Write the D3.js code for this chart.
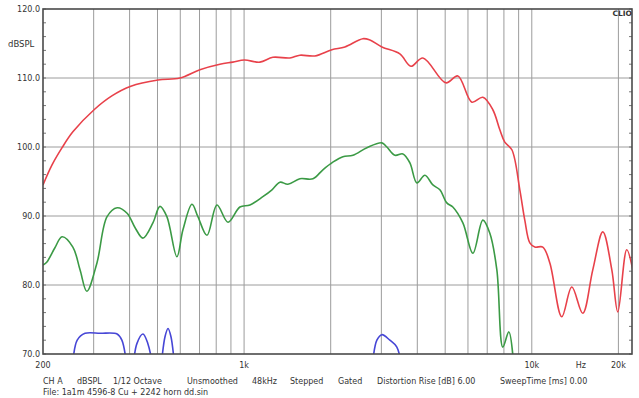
<!DOCTYPE html>
<html><head><meta charset="utf-8">
<script src="https://cdn.jsdelivr.net/npm/d3@7"></script>
<style>body{margin:0;background:#fff}svg{display:block}text{font-family:"DejaVu Sans",Verdana,sans-serif}</style>
</head><body>
<svg id="c" width="639" height="398"></svg>
<script>
// Frequencies (Hz) and levels (dB SPL)
const redFreq = [200,215,233,254,301,347,404,502,598,702,824,914,1003,1135,1259,1443,1563,1762,2019,2240,2588,2738,3013,3479,3800,4183,5027,5534,6191,6758,7321,7743,8056,8527,9086,9456,9844,10246,10920,11554,12712,13774,15034,16292,17654,18974,19900,21380,22440];
const redDb   = [94.5,97.4,99.9,102.2,105.4,107.4,108.8,109.7,110.0,111.2,112.0,112.3,112.6,112.3,113.0,112.9,113.3,113.2,114.1,114.5,115.7,115.5,114.5,113.5,111.7,112.9,109.3,110.3,106.5,107.2,105.4,102.5,100.7,99.6,93.8,89.4,86.1,85.5,85.5,83.2,75.4,79.7,75.9,82.2,87.7,82.2,76.1,85.1,82.2];

const greenFreq = [200,206,220,233,254,269,284,308,334,362,392,418,445,482,510,539,584,613,659,691,743,805,879,967,1048,1162,1250,1332,1420,1563,1735,1879,2035,2205,2390,2672,3013,3136,3344,3564,3770,3987,4251,4531,4791,5066,5316,5760,6241,6758,7148,7560,7932,8323,8730];
const greenDb   = [82.9,83.3,85.4,87.0,85.5,82.2,79.1,83.2,89.9,91.2,90.4,88.3,86.8,89.0,91.4,89.9,84.1,88.0,91.7,89.9,87.2,91.6,89.1,91.3,91.6,92.8,93.8,94.9,94.6,95.4,95.4,96.7,97.8,98.6,98.8,99.9,100.6,100.0,98.8,99.0,97.7,94.8,95.9,94.5,93.8,91.9,91.3,89.0,84.6,89.4,87.5,82.2,71.0,73.2,66.0];

const blueFreq = [240,252,263,280,316,362,376,392,401,411,424,445,463,482,498,514,531,544,557,575,600,2700,2782,2894,3013,3211,3396,3536,3650];
const blueDb   = [62,68,72.0,73.0,73.0,72.9,72.0,68,62,68,71.5,72.9,71.5,68,62,68,72.5,73.7,72.5,68,62,62,68,72.0,72.8,72.0,71.0,68,62];

const yTicks = [70,80,90,100,110,120];
const xGrid = [300,400,500,600,700,800,900,1000,2000,3000,4000,5000,6000,7000,8000,9000,10000,20000];
const xLabelFreq = [200,1000,10000,14800,20000];
const xLabelText = ["200","1k","10k","Hz","20k"];
const footerText = ["CH A","dBSPL","1/12 Octave","Unsmoothed","48kHz","Stepped","Gated","Distortion Rise [dB] 6.00","SweepTime [ms] 0.00"];
const fileLine = "File: 1a1m 4596-8 Cu + 2242 horn dd.sin";

// layout
const footerX = [43,77,113,187,252,290,338,377,500];
const L=43,R=632,T=9,B=354;
const svg=d3.select("#c");
const x=d3.scaleLog().domain([200,22300]).range([L,R]);
const y=d3.scaleLinear().domain([70,120]).range([B,T]);

svg.append("defs").append("clipPath").attr("id","clip").append("rect")
  .attr("x",L).attr("y",T).attr("width",R-L).attr("height",B-T);

// grid
svg.append("g").selectAll("line").data(xGrid).join("line")
  .attr("x1",d=>x(d)).attr("x2",d=>x(d)).attr("y1",T).attr("y2",B)
  .attr("stroke","#9c9c9c").attr("stroke-width",1);
svg.append("g").selectAll("line").data(yTicks.slice(1,-1)).join("line")
  .attr("x1",L).attr("x2",R).attr("y1",d=>y(d)).attr("y2",d=>y(d))
  .attr("stroke","#9c9c9c").attr("stroke-width",1);

// minor ticks on left and right borders
const minor=d3.range(70,121,2);
svg.append("g").selectAll("line").data(minor).join("line")
  .attr("x1",L).attr("x2",L+3).attr("y1",d=>y(d)).attr("y2",d=>y(d)).attr("stroke","#777");
svg.append("g").selectAll("line").data(minor).join("line")
  .attr("x1",R-3).attr("x2",R).attr("y1",d=>y(d)).attr("y2",d=>y(d)).attr("stroke","#777");

// curves
const mk=(fs,ds)=>fs.map((f,i)=>[f,ds[i]]);
const line=d3.line().x(d=>x(d[0])).y(d=>y(d[1])).curve(d3.curveCatmullRom.alpha(0.5));
const g=svg.append("g").attr("clip-path","url(#clip)");
g.append("path").attr("d",line(mk(blueFreq,blueDb))).attr("fill","none").attr("stroke","#4646d6").attr("stroke-width",1.6);
g.append("path").attr("d",line(mk(greenFreq,greenDb))).attr("fill","none").attr("stroke","#3b9a45").attr("stroke-width",1.6);
g.append("path").attr("d",line(mk(redFreq,redDb))).attr("fill","none").attr("stroke","#e8414a").attr("stroke-width",1.6);

// border
svg.append("rect").attr("x",L).attr("y",T).attr("width",R-L).attr("height",B-T)
  .attr("fill","none").attr("stroke","#4a4a4a").attr("stroke-width",1.6);

// y labels
svg.append("g").selectAll("text").data(yTicks).join("text")
  .attr("x",40).attr("y",d=>y(d)+3).attr("text-anchor","end")
  .attr("font-size",8).attr("fill","#333").text(d=>d.toFixed(1));
svg.append("text").attr("x",8).attr("y",47).attr("font-size",8.5).attr("fill","#333").text("dBSPL");
svg.append("text").attr("x",632).attr("y",16).attr("text-anchor","end").attr("font-size",7.5).attr("font-weight","bold").attr("fill","#333").text("CLIO");

// x labels
svg.append("g").selectAll("text").data(xLabelFreq).join("text")
  .attr("x",d=>x(d)).attr("y",368).attr("text-anchor","middle")
  .attr("font-size",8).attr("fill","#333").text((d,i)=>xLabelText[i]);

// footer
svg.append("g").selectAll("text").data(footerText).join("text")
  .attr("x",(d,i)=>footerX[i]).attr("y",384).attr("font-size",8).attr("fill","#333").text(d=>d);
svg.append("text").attr("x",43).attr("y",395).attr("font-size",8).attr("fill","#333").text(fileLine);
</script>
</body></html>
